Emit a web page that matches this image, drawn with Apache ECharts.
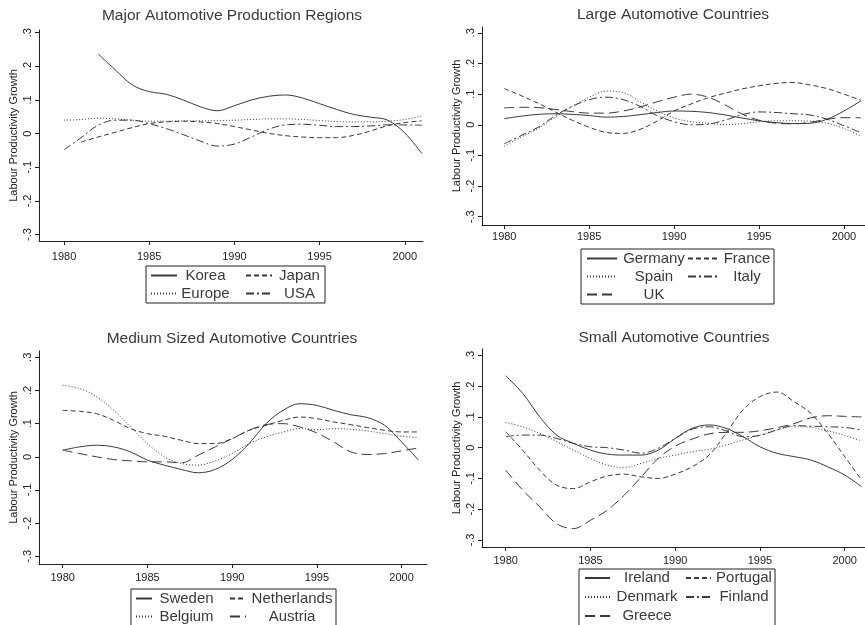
<!DOCTYPE html>
<html>
<head>
<meta charset="utf-8">
<script src="https://cdn.jsdelivr.net/npm/echarts@6/dist/echarts.min.js"></script>
<style>
html,body{margin:0;padding:0;background:#fff;}
#chart{width:865px;height:625px;}
</style>
</head>
<body>
<div id="chart"></div>
<script>
// ---------- DATA ----------
const years = [1980,1981,1982,1983,1984,1985,1986,1987,1988,1989,1990,1991,1992,1993,1994,1995,1996,1997,1998,1999,2000,2001];
const xTicks = [1980,1985,1990,1995,2000];
const yTicks = [-0.3,-0.2,-0.1,0,0.1,0.2,0.3];

const panelTitles = ['Major Automotive Production Regions','Large Automotive Countries','Medium Sized Automotive Countries','Small Automotive Countries'];
const yAxisTitle = 'Labour Productivity Growth';

// Panel 1
const korea  = [null,null,0.237,0.19,0.145,0.125,0.117,0.100,0.080,0.068,0.083,0.100,0.111,0.115,0.106,0.089,0.072,0.057,0.049,0.040,0.002,-0.059];
const japan  = [null,-0.025,-0.010,0.004,0.018,0.030,0.035,0.037,0.035,0.030,0.021,0.011,0.001,-0.006,-0.010,-0.012,-0.012,-0.005,0.008,0.024,0.033,0.038];
const europe = [0.040,0.042,0.046,0.044,0.040,0.037,0.037,0.038,0.038,0.039,0.040,0.042,0.044,0.044,0.042,0.039,0.036,0.035,0.035,0.037,0.042,0.052];
const usa    = [-0.048,-0.012,0.025,0.040,0.040,0.030,0.015,-0.003,-0.022,-0.037,-0.031,-0.010,0.013,0.026,0.028,0.025,0.021,0.021,0.023,0.026,0.026,0.025];

// Panel 2
const germany = [0.020,0.028,0.034,0.036,0.034,0.030,0.025,0.027,0.033,0.040,0.045,0.044,0.040,0.032,0.022,0.013,0.007,0.004,0.005,0.018,0.045,0.078];
const france  = [0.118,0.095,0.070,0.042,0.015,-0.008,-0.025,-0.028,-0.015,0.012,0.045,0.068,0.088,0.103,0.117,0.127,0.135,0.138,0.130,0.118,0.100,0.080];
const spain   = [-0.070,-0.040,-0.012,0.025,0.060,0.090,0.110,0.105,0.075,0.045,0.022,0.010,0.005,0.000,0.004,0.010,0.013,0.013,0.012,0.005,-0.012,-0.037];
const italy   = [-0.062,-0.035,-0.008,0.030,0.060,0.082,0.090,0.082,0.060,0.030,0.010,0.000,0.002,0.015,0.033,0.042,0.040,0.036,0.032,0.018,-0.003,-0.026];
const uk      = [0.055,0.057,0.056,0.050,0.043,0.038,0.038,0.045,0.058,0.075,0.090,0.100,0.090,0.065,0.035,0.015,0.005,0.003,0.008,0.018,0.023,0.023];

// Panel 3
const sweden      = [0.020,0.030,0.035,0.030,0.015,-0.010,-0.025,-0.038,-0.048,-0.038,-0.008,0.040,0.100,0.140,0.160,0.155,0.140,0.127,0.118,0.095,0.045,-0.010];
const belgium     = [0.216,0.206,0.181,0.141,0.090,0.040,0.000,-0.020,-0.025,-0.012,0.010,0.040,0.060,0.075,0.085,0.082,0.085,0.083,0.078,0.070,0.062,0.058];
const netherlands = [0.140,0.137,0.130,0.110,0.085,0.070,0.062,0.050,0.040,0.040,0.055,0.080,0.095,0.110,0.120,0.115,0.105,0.097,0.088,0.080,0.075,0.075];
const austria     = [0.020,0.010,0.000,-0.008,-0.012,-0.015,-0.015,-0.018,0.005,0.030,0.055,0.080,0.097,0.100,0.090,0.072,0.045,0.015,0.007,0.010,0.018,0.027];

// Panel 4
const ireland  = [0.234,0.177,0.101,0.041,0.014,-0.008,-0.021,-0.024,-0.024,-0.008,0.030,0.063,0.074,0.063,0.036,0.003,-0.018,-0.029,-0.040,-0.062,-0.089,-0.127];
const denmark  = [0.082,0.068,0.047,0.020,-0.008,-0.035,-0.057,-0.064,-0.051,-0.035,-0.024,-0.013,-0.005,0.009,0.025,0.041,0.058,0.068,0.066,0.055,0.040,0.022];
const greece   = [-0.073,-0.138,-0.192,-0.247,-0.263,-0.236,-0.203,-0.154,-0.095,-0.035,0.005,0.028,0.045,0.050,0.050,0.055,0.065,0.078,0.097,0.104,0.102,0.100];
const portugal = [0.052,-0.008,-0.073,-0.122,-0.133,-0.111,-0.092,-0.086,-0.095,-0.100,-0.086,-0.062,-0.024,0.047,0.123,0.166,0.181,0.150,0.112,0.047,-0.029,-0.105];
const finland  = [0.036,0.041,0.041,0.030,0.014,0.003,0.000,-0.008,-0.018,-0.002,0.030,0.060,0.068,0.055,0.036,0.040,0.058,0.072,0.070,0.068,0.066,0.058];

// ---------- STYLE / LAYOUT ----------
const FONT = "'Liberation Sans', Arial, Helvetica, sans-serif";
const INK = '#3a3a3a';
const DASH = {solid:'solid', dash:[5,3], dot:[1,2], dashdot:[8,3,2,3], longdash:[10,5]};

const panels = [
  {grid:{left:39,top:30,width:384,height:211}, x:[1978.53,2001.07], y:[-0.319,0.308], titleX:232, titleTop:8, xMargin:10,
   series:[['Korea',korea,'solid'],['Japan',japan,'dash'],['Europe',europe,'dot'],['USA',usa,'dashdot']],
   col1:['Korea','Europe'], legend:{left:146,top:266,padding:[1,3,1,4],itemWidth:26,w1:47,g:15,w2:45,lh:17}},
  {grid:{left:482,top:27,width:383,height:198}, x:[1978.69,2001.24], y:[-0.327,0.319], titleX:673, titleTop:7, xMargin:6,
   series:[['Germany',germany,'solid'],['France',france,'dash'],['Spain',spain,'dot'],['Italy',italy,'dashdot'],['UK',uk,'longdash']],
   col1:['Germany','Spain','UK'], legend:{left:581,top:249,padding:[1,3,1,5],itemWidth:30,w1:64,g:0,w2:48,lh:17}},
  {grid:{left:39,top:351,width:388,height:213}, x:[1978.6,2001.5], y:[-0.323,0.319], titleX:232, titleTop:331, xMargin:8,
   series:[['Sweden',sweden,'solid'],['Netherlands',netherlands,'dash'],['Belgium',belgium,'dot'],['Austria',austria,'longdash']],
   col1:['Sweden','Belgium'], legend:{left:131,top:589,padding:[1,3,1,4],itemWidth:16,w1:59,g:12,w2:82,lh:17}},
  {grid:{left:482,top:349,width:383,height:198}, x:[1978.6,2001.2], y:[-0.323,0.321], titleX:674, titleTop:330, xMargin:8,
   series:[['Ireland',ireland,'solid'],['Portugal',portugal,'dash'],['Denmark',denmark,'dot'],['Finland',finland,'dashdot'],['Greece',greece,'longdash']],
   col1:['Ireland','Denmark','Greece'], legend:{left:579,top:569,padding:[0,3,1,5],itemWidth:25,w1:64,g:5,w2:56,lh:18}}
];

function yFmt(v){
  if (Math.abs(v) < 1e-9) return '0';
  const s = Math.abs(v).toFixed(1).replace(/^0/, '');
  return (v < 0 ? '-' : '') + s;
}

const option = {
  backgroundColor:'#fff',
  animation:false,
  title:[], grid:[], xAxis:[], yAxis:[], legend:[], series:[]
};

panels.forEach((p, i) => {
  option.title.push({
    text: panelTitles[i], left: p.titleX, top: p.titleTop, textAlign:'center', padding:0,
    textStyle:{fontFamily:FONT, fontSize:15.5, fontWeight:'normal', color:INK}
  });
  option.grid.push(Object.assign({containLabel:false}, p.grid));
  option.xAxis.push({
    type:'value', gridIndex:i, min:p.x[0], max:p.x[1],
    axisLine:{show:true, onZero:false, lineStyle:{color:'#222', width:1}},
    axisTick:{show:true, length:4, lineStyle:{color:'#222'}, customValues:xTicks},
    axisLabel:{show:true, customValues:xTicks, margin:p.xMargin, fontFamily:FONT, fontSize:11, color:'#222', formatter:v=>String(v)},
    splitLine:{show:false}
  });
  option.yAxis.push({
    type:'value', gridIndex:i, min:p.y[0], max:p.y[1],
    name: yAxisTitle, nameLocation:'middle', nameGap:20, nameRotate:90,
    nameTextStyle:{fontFamily:FONT, fontSize:11, color:'#222'},
    axisLine:{show:true, onZero:false, lineStyle:{color:'#222', width:1}},
    axisTick:{show:true, length:4, lineStyle:{color:'#222'}, customValues:yTicks},
    axisLabel:{show:true, customValues:yTicks, rotate:90, margin:6, fontFamily:FONT, fontSize:11, color:'#222', formatter:yFmt},
    splitLine:{show:false}
  });
  const names = [];
  p.series.forEach(([name, arr, dash]) => {
    names.push(name);
    option.series.push({
      name, type:'line', xAxisIndex:i, yAxisIndex:i,
      data: years.map((yr, k) => [yr, arr[k]]),
      smooth:0.35, showSymbol:false, symbol:'none', connectNulls:false,
      lineStyle:{color:INK, width:1, type:DASH[dash]},
      itemStyle:{color:INK},
      emphasis:{disabled:true}
    });
  });
  const L = p.legend;
  option.legend.push({
    data: names, left:L.left, top:L.top, orient:'horizontal',
    itemGap:1,
    width: (L.itemWidth + 5 + L.w1 + L.g) + 1 + (L.itemWidth + 5 + L.w2) + 2,
    padding:L.padding, borderColor:'#222', borderWidth:1,
    itemWidth:L.itemWidth, itemHeight:12,
    itemStyle:{opacity:0, color:'rgba(0,0,0,0)', borderWidth:0},
    selectedMode:false,
    formatter: name => p.col1.includes(name) ? '{a|' + name + '}' : '{b|' + name + '}',
    textStyle:{fontFamily:FONT, fontSize:15, color:INK, lineHeight:L.lh,
      rich:{
        a:{width:L.w1, align:'center', fontFamily:FONT, fontSize:15, color:INK, lineHeight:L.lh, padding:[0,L.g,0,0]},
        b:{width:L.w2, align:'center', fontFamily:FONT, fontSize:15, color:INK, lineHeight:L.lh}
      }
    }
  });
});

const chart = echarts.init(document.getElementById('chart'), null, {renderer:'canvas'});
chart.setOption(option);
</script>
</body>
</html>
